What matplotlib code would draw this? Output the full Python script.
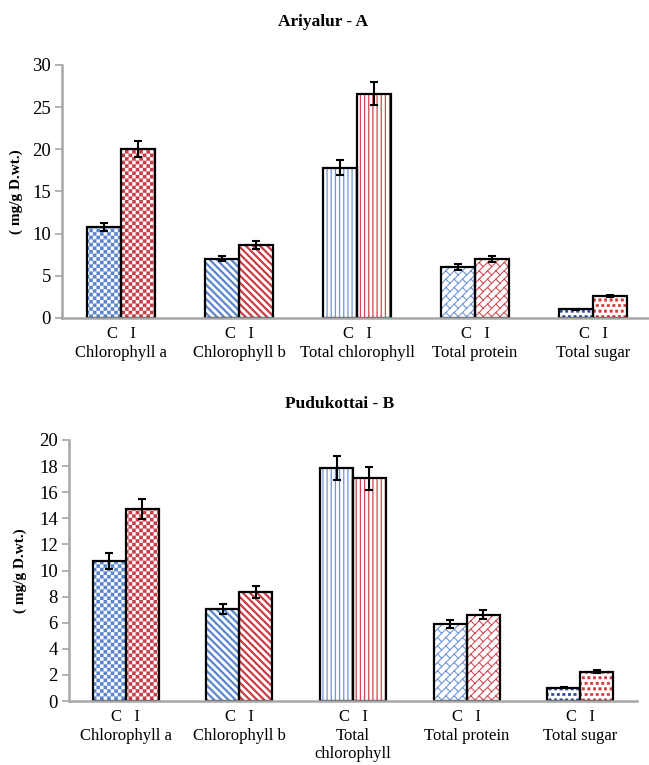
import warnings
warnings.filterwarnings("ignore")
import numpy as np
import matplotlib
matplotlib.use("Agg")
import matplotlib.pyplot as plt
import matplotlib.hatch as mhatch
from matplotlib.path import Path

# ---------------- data ----------------
categories_top = ['Chlorophyll a', 'Chlorophyll b', 'Total chlorophyll', 'Total protein', 'Total sugar']
categories_bot = ['Chlorophyll a', 'Chlorophyll b', 'Total\nchlorophyll', 'Total protein', 'Total sugar']
group_labels = ['C', 'I']

top_C = [10.8, 7.05, 17.8, 6.0, 1.05]
top_C_err = [0.5, 0.35, 0.9, 0.35, 0.05]
top_I = [20.0, 8.65, 26.6, 7.0, 2.6]
top_I_err = [0.95, 0.45, 1.35, 0.35, 0.1]

bot_C = [10.75, 7.05, 17.85, 5.9, 1.02]
bot_C_err = [0.6, 0.38, 0.95, 0.3, 0.03]
bot_I = [14.7, 8.35, 17.05, 6.62, 2.25]
bot_I_err = [0.75, 0.45, 0.9, 0.33, 0.12]

# ---------------- custom hatches ----------------
class _CustomHatch(mhatch.HatchPatternBase):
    char = None
    def __init__(self, hatch, density):
        if hatch is not None and self.char in hatch:
            v, c = self.build()
            self.verts = np.asarray(v, float)
            self.codes = np.asarray(c, dtype=Path.code_type)
            self.num_vertices = len(self.verts)
        else:
            self.num_vertices = 0
    def set_vertices_and_codes(self, vertices, codes):
        vertices[:] = self.verts
        codes[:] = self.codes

class CheckerHatch(_CustomHatch):
    char = 'c'
    def build(self, n=28):
        v, c = [], []
        s = 1.0 / n
        for i in range(n):
            for j in range(n):
                if (i + j) % 2 == 0:
                    x0, y0 = i * s, j * s
                    v += [(x0, y0), (x0 + s, y0), (x0 + s, y0 + s), (x0, y0 + s), (x0, y0)]
                    c += [Path.MOVETO, Path.LINETO, Path.LINETO, Path.LINETO, Path.CLOSEPOLY]
        return v, c

class BackHatch(_CustomHatch):
    char = 'n'
    def build(self, N=14):
        v, c = [], []
        for k in range(-1, 2 * N + 2):
            cc = k / N
            v += [(-0.2, cc + 0.2), (1.2, cc - 1.2)]
            c += [Path.MOVETO, Path.LINETO]
        return v, c

class BrickHatch(_CustomHatch):
    char = 'b'
    def build(self, N=12, M=6):
        v, c = [], []
        for k in range(-N - 2, N + 2):
            ck = k / N
            v += [(-0.2, -0.2 + ck), (1.2, 1.2 + ck)]
            c += [Path.MOVETO, Path.LINETO]
            ck1 = (k + 1) / N
            for m in range(-2, 2 * M + 3):
                t = m / M + (k % 2) * 0.5 / M
                p1 = ((t - ck) / 2, (t + ck) / 2)
                p2 = ((t - ck1) / 2, (t + ck1) / 2)
                if -0.2 <= p1[0] <= 1.2 and -0.2 <= p1[1] <= 1.2:
                    v += [p1, p2]
                    c += [Path.MOVETO, Path.LINETO]
        return v, c

class DotHatch(_CustomHatch):
    char = 'd'
    def build(self, n=18, frac=0.42):
        v, c = [], []
        s = 1.0 / n
        h = s * frac / 2
        for r in range(n + 1):
            off = 0 if r % 2 == 0 else s / 2
            for q in range(-1, n + 1):
                x, y = q * s + off, r * s
                v += [(x - h, y - h), (x + h, y - h), (x + h, y + h), (x - h, y + h), (x - h, y - h)]
                c += [Path.MOVETO, Path.LINETO, Path.LINETO, Path.LINETO, Path.CLOSEPOLY]
        return v, c

mhatch._hatch_types.extend([CheckerHatch, BackHatch, BrickHatch, DotHatch])

# ---------------- style ----------------
plt.rcParams['font.family'] = ['Liberation Serif', 'DejaVu Serif']
BLUE = '#5A86CC'
RED = '#C73E46'
NAVY = '#2A4A9A'
GRAY = '#A6A6A6'

styles = [  # (hatch, C colour, I colour, hatch linewidth)
    ('c', BLUE, RED, 0.05),
    ('n', BLUE, RED, 1.6),
    ('||||', '#6E96D6', '#D2474F', 0.9),
    ('b', '#6A92D4', '#CF4A52', 0.75),
    ('d', NAVY, '#D43A3A', 0.4),
]

fig = plt.figure(figsize=(6.49, 7.65), dpi=100)


def draw_panel(ax, cats, cvals, cerr, ivals, ierr, ymax, ystep, title, title_xy, ylab_x):
    x = np.arange(len(cats))
    w = 0.29
    for i in range(len(cats)):
        hatch, colC, colI, hlw = styles[i]
        for sign, val, err, col in [(-1, cvals[i], cerr[i], colC), (1, ivals[i], ierr[i], colI)]:
            with plt.rc_context({'hatch.linewidth': hlw}):
                b = ax.bar(x[i] + sign * w / 2, val, w, color='white', edgecolor=col,
                           hatch=hatch, linewidth=0, zorder=2)
            for p in b:
                if hasattr(p, 'set_hatch_linewidth'):
                    p.set_hatch_linewidth(hlw)
            ax.bar(x[i] + sign * w / 2, val, w, fill=False, edgecolor='black',
                   linewidth=1.6, zorder=3)
            ax.errorbar(x[i] + sign * w / 2, val, yerr=err, fmt='none', ecolor='black',
                        elinewidth=1.5, capsize=3.2, capthick=1.5, zorder=4)
    ax.set_xlim(-0.5, len(cats) - 0.5)
    ax.set_ylim(0, ymax)
    ax.set_yticks(np.arange(0, ymax + 0.01, ystep))
    ax.set_xticks(x)
    ax.set_xticklabels(['C   I\n' + cname for cname in cats], fontsize=12, linespacing=1.2)
    ax.tick_params(axis='x', length=0, pad=6)
    ax.tick_params(axis='y', length=5, width=1.2, color=GRAY, labelsize=13.5, pad=3)
    for s in ['top', 'right']:
        ax.spines[s].set_visible(False)
    for s in ['left', 'bottom']:
        ax.spines[s].set_color(GRAY)
        ax.spines[s].set_linewidth(1.8)
    ax.spines['bottom'].set_zorder(5)
    ax.set_ylabel('( mg/g D.wt.)', fontsize=11, fontweight='bold')
    ax.yaxis.set_label_coords(ylab_x, 0.5)
    fig.text(title_xy[0], title_xy[1], title, fontsize=12.5, fontweight='bold',
             ha='center', va='center')


ax1 = fig.add_axes([62 / 649, (765 - 318) / 765, 590 / 649, 253 / 765])
draw_panel(ax1, categories_top, top_C, top_C_err, top_I, top_I_err, 30, 5,
           'Ariyalur - A', (323 / 649, 1 - 22 / 765), -0.066)

ax2 = fig.add_axes([69 / 649, (765 - 701) / 765, 568 / 649, 261 / 765])
draw_panel(ax2, categories_bot, bot_C, bot_C_err, bot_I, bot_I_err, 20, 2,
           'Pudukottai - B', (340 / 649, 1 - 404 / 765), -0.074)

fig.savefig('out.png', dpi=100)
